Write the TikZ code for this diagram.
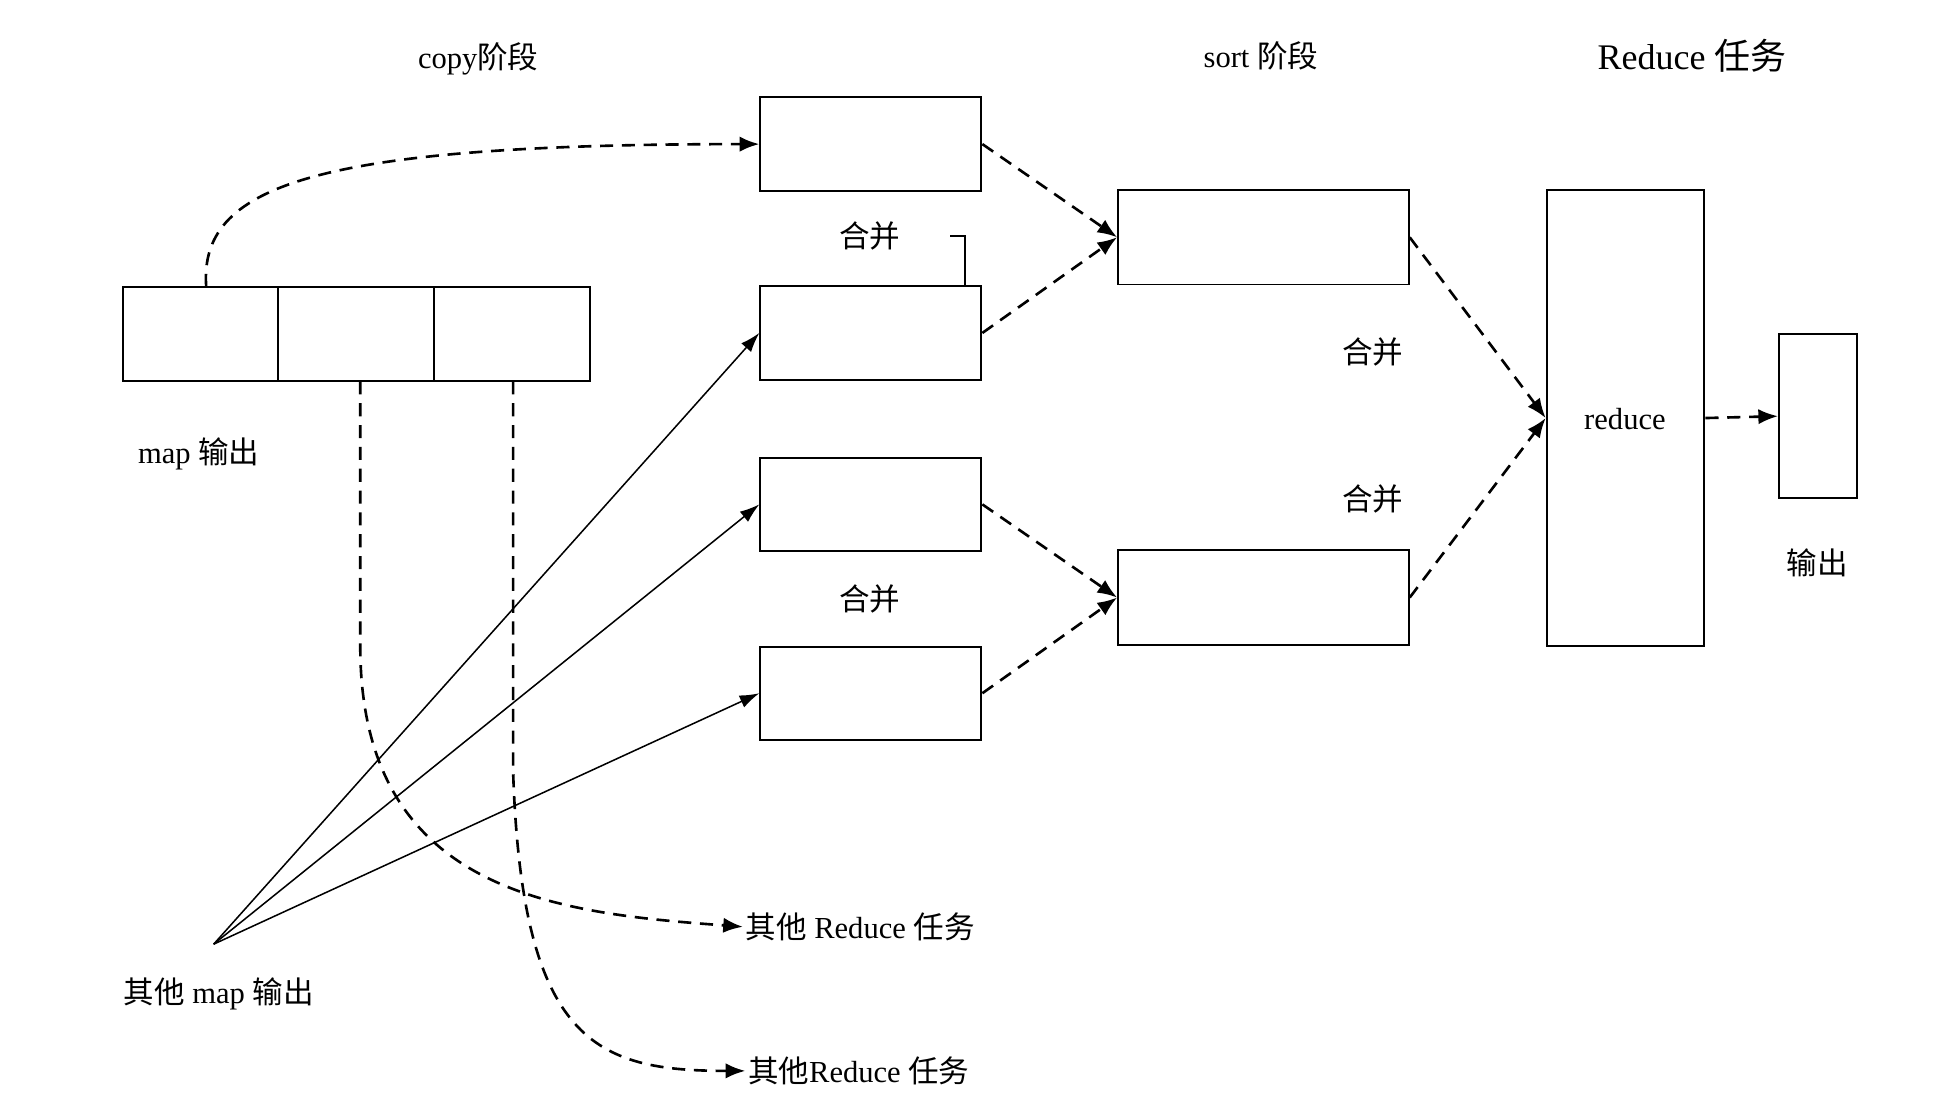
\documentclass[tikz,border=0pt]{standalone}
\usepackage{fontspec}
\setmainfont{Liberation Serif}
\newfontfamily\cjk{Noto Sans CJK SC}
\usetikzlibrary{arrows.meta}
\begin{document}
\begin{tikzpicture}[x=0.02cm,y=-0.02cm,
  bx/.style={draw,line width=0.9pt,inner sep=0},
  da/.style={dashed,line width=1.2pt,dash pattern=on 6pt off 4pt,-{Latex[length=9pt,width=7pt]}},
  sa/.style={line width=0.7pt,-{Latex[length=9pt,width=6pt]}},
  lb/.style={font=\fontsize{14}{16}\selectfont,inner sep=1pt}]
\useasboundingbox (0,0) rectangle (1560,887);
\node[bx,minimum width=2.5cm,minimum height=1.52cm] (m1) at (161.5,269) {};
\node[bx,minimum width=2.5cm,minimum height=1.52cm] (m2) at (286.5,269) {};
\node[bx,minimum width=2.52cm,minimum height=1.52cm] (m3) at (412,269) {};
\node[bx,minimum width=3.56cm,minimum height=1.52cm] (A) at (701,116) {};
\node[bx,minimum width=3.56cm,minimum height=1.5cm] (B) at (701,268) {};
\node[bx,minimum width=3.56cm,minimum height=1.5cm] (C) at (701,406) {};
\node[bx,minimum width=3.56cm,minimum height=1.5cm] (D) at (701,558) {};
\node[bx,minimum width=4.68cm,minimum height=1.52cm] (E) at (1017,191) {};
\node[bx,minimum width=4.68cm,minimum height=1.52cm] (F) at (1017,481) {};
\node[bx,minimum width=2.54cm,minimum height=7.34cm] (R) at (1308.5,336.5) {};
\node[bx,minimum width=1.26cm,minimum height=2.64cm] (O) at (1463.5,335) {};
\node[lb] (t1) at (385,47) {copy{\cjk 阶段}};
\node[lb] (t2) at (1015,45) {sort {\cjk 阶段}};
\node[lb,font=\fontsize{16.5}{18}\selectfont] (t3) at (1362,45) {Reduce {\cjk 任务}};
\node[lb] (h1) at (700,190) {\cjk 合并};
\node[lb] (h2) at (1105,283) {\cjk 合并};
\node[lb] (h3) at (1105,402) {\cjk 合并};
\node[lb] (h4) at (700,482) {\cjk 合并};
\node[lb] (mo) at (160,365) {map {\cjk 输出}};
\node[lb] (rd) at (1308,337) {reduce};
\node[lb] (out) at (1463,453) {\cjk 输出};
\node[lb] (om) at (176,800) {{\cjk 其他} map {\cjk 输出}};
\node[lb,anchor=west] (or1) at (598,746) {{\cjk 其他} Reduce {\cjk 任务}};
\node[lb,anchor=west] (or2) at (600,862) {{\cjk 其他}Reduce {\cjk 任务}};
\coordinate (src) at (172,760);
\coordinate (bk) at (777,230);
\draw[line width=0.8pt] (765,190) -- (777,190) -- (bk);
\draw[da] (166,231) .. controls (160,150) and (250,116) .. (A.west);
\draw[da] (A.east) -- (E.west);
\draw[da] (B.east) -- (E.west);
\draw[da] (C.east) -- (F.west);
\draw[da] (D.east) -- (F.west);
\draw[da] (E.east) -- (R.west);
\draw[da] (F.east) -- (R.west);
\draw[da] (R.east) -- (O.west);
\draw[sa] (src) -- (B.west);
\draw[sa] (src) -- (C.west);
\draw[sa] (src) -- (D.west);
\draw[da] (290,307) -- (290,520) .. controls (290,720) and (450,735) .. (or1.west);
\draw[da] (413,307) -- (413,620) .. controls (420,840) and (480,862) .. (or2.west);
\end{tikzpicture}
\end{document}
